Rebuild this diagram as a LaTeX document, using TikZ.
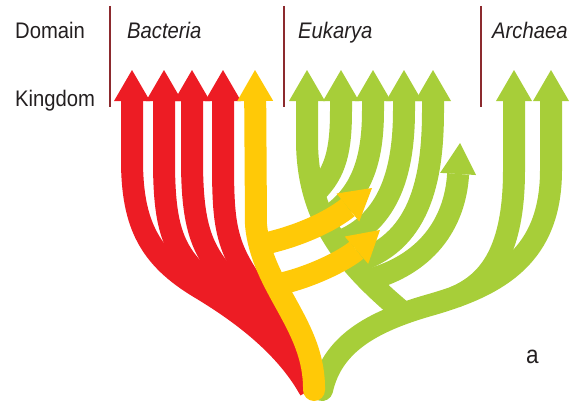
\documentclass[tikz,border=0pt]{standalone}
\usepackage{fontspec}
\setmainfont[FakeStretch=0.9]{Liberation Sans}
\usetikzlibrary{arrows.meta}
\definecolor{bactred}{HTML}{ED1C24}
\definecolor{eukgreen}{HTML}{A7CE39}
\definecolor{rootyellow}{HTML}{FFC907}
\definecolor{rulered}{HTML}{8C2A2E}
\definecolor{labelgray}{HTML}{231F20}
\tikzset{
  limb/.style={line width=22pt, -{Triangle[width=36pt,length=31pt,line width=0pt]}},
  heading/.style={anchor=base west, inner sep=0pt, text=labelgray, font=\fontsize{22.5}{27}\selectfont},
  divider/.style={rulered, line width=2pt}
}

\begin{document}
\begin{tikzpicture}[x=1pt,y=-1pt]
  \useasboundingbox (0,0) rectangle (572,404);
  \node[heading] (domain) at (15,39) {Domain};
  \node[heading] (kingdom) at (15,106) {Kingdom};
  \node[heading] (bacteria) at (127,39) {\itshape Bacteria};
  \node[heading] (eukarya) at (298,39) {\itshape Eukarya};
  \node[heading] (archaea) at (492,39) {\itshape Archaea};
  \node[heading, font=\fontsize{25}{30}\selectfont] (panel) at (526,363) {a};
  \draw[divider] (110,6) -- (110,107);
  \draw[divider] (284,6) -- (284,107);
  \draw[divider] (481,6) -- (481,107);
  % bacteria
  \draw[limb, bactred] (310,390) .. controls (285,345) and (240,312) .. (200,288) .. controls (150,258) and (132,225) .. (132,160) -- (132,70);
  \draw[limb, bactred] (309,388) .. controls (285,340) and (235,305) .. (205,280) .. controls (172,252) and (164,225) .. (164,160) -- (164,70);
  \draw[limb, bactred] (309,388) .. controls (290,335) and (245,300) .. (220,270) .. controls (200,245) and (192,220) .. (192,160) -- (192,70);
  \draw[limb, bactred] (308,388) .. controls (295,320) and (245,290) .. (230,240) .. controls (224,220) and (223,200) .. (223,160) -- (223,70);
  % archaea and eukarya
  \draw[limb, eukgreen, line cap=round] (322,390) .. controls (332,345) and (370,322) .. (430,305) .. controls (500,285) and (551,255) .. (551,170) -- (551,70);
  \draw[limb, eukgreen] (455,297) .. controls (490,282) and (514,250) .. (514,170) -- (514,70);
  \draw[limb, eukgreen] (405,314) .. controls (350,268) and (307,222) .. (307,140) -- (307,70);
  \draw[limb, eukgreen] (316,192) .. controls (336,172) and (341,150) .. (341,110) -- (341,70);
  \draw[limb, eukgreen] (326,218) .. controls (362,195) and (373,160) .. (373,110) -- (373,70);
  \draw[limb, eukgreen] (338,242) .. controls (390,222) and (404,170) .. (404,110) -- (404,70);
  \draw[limb, eukgreen] (352,263) .. controls (420,245) and (433,180) .. (433,110) -- (433,70);
  \draw[limb, eukgreen] (368,280) .. controls (425,265) and (455,225) .. (460,143);
  % transfers
  \draw[limb, rootyellow, line cap=round] (314,390) .. controls (315,325) and (262,288) .. (256,225) -- (255,70);
  \draw[limb, rootyellow] (258,245) .. controls (295,238) and (330,222) .. (372,188);
  \draw[limb, rootyellow] (275,285) .. controls (310,278) and (345,260) .. (380,230);
\end{tikzpicture}
\end{document}
